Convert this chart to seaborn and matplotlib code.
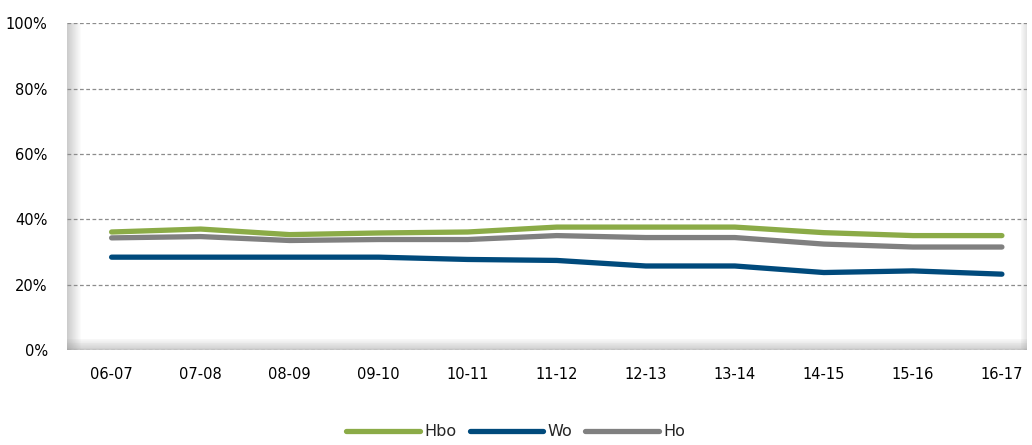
import numpy as np
import pandas as pd
import seaborn as sns
import matplotlib.pyplot as plt
from matplotlib.ticker import PercentFormatter

# data (percent)
years = ['06-07', '07-08', '08-09', '09-10', '10-11', '11-12',
         '12-13', '13-14', '14-15', '15-16', '16-17']
hbo = [36.1, 37.0, 35.3, 35.8, 36.1, 37.6, 37.6, 37.6, 35.9, 35.0, 35.0]
wo = [28.4, 28.4, 28.4, 28.4, 27.7, 27.4, 25.7, 25.7, 23.7, 24.2, 23.2]
ho = [34.3, 34.7, 33.5, 33.8, 33.8, 35.0, 34.4, 34.4, 32.4, 31.5, 31.5]

df = pd.DataFrame({'jaar': years * 3,
                   'waarde': hbo + wo + ho,
                   'niveau': ['Hbo'] * 11 + ['Wo'] * 11 + ['Ho'] * 11})

sns.set_style('white')
plt.rcParams['font.family'] = ['DejaVu Sans']

fig = plt.figure(figsize=(10.32, 4.45), dpi=100)
ax = fig.add_axes([0.065, 0.2135, 0.93, 0.7345])

# bevel shading of the plot frame
for i in range(14):
    a = 0.4 * (1 - i / 14)
    ax.axvspan(-0.5 + i * 0.011, -0.5 + (i + 1) * 0.011, ymin=0, ymax=1,
               color='gray', alpha=a, lw=0, zorder=0)
    ax.axhspan(i * 0.25, (i + 1) * 0.25, xmin=0, xmax=1,
               color='gray', alpha=a, lw=0, zorder=0)
for i in range(8):
    a = 0.25 * (i / 8)
    ax.axvspan(10.2 + i * 0.01, 10.2 + (i + 1) * 0.01, color='gray',
               alpha=a, lw=0, zorder=0)

sns.lineplot(data=df, x='jaar', y='waarde', hue='niveau', ax=ax,
             palette={'Hbo': '#8bab47', 'Wo': '#004a7c', 'Ho': '#808080'},
             linewidth=3.8, sort=False, solid_capstyle='round', zorder=3)

ax.set_ylim(0, 100)
ax.set_xlim(-0.5, 10.28)
ax.set_yticks(range(0, 101, 20))
ax.yaxis.set_major_formatter(PercentFormatter(decimals=0))
ax.grid(axis='y', linestyle=(0, (3, 2)), color='#8c8c8c', linewidth=0.9)
for s in ax.spines.values():
    s.set_visible(False)
ax.set_xlabel('')
ax.set_ylabel('')
ax.tick_params(axis='both', length=0, labelsize=10.5, colors='black')
ax.tick_params(axis='x', pad=12)
ax.tick_params(axis='y', pad=14)

handles, labels = ax.get_legend_handles_labels()
ax.get_legend().remove()
fig.legend(handles, labels, loc='center', bbox_to_anchor=(0.5, 0.03),
           ncol=3, frameon=False, fontsize=11.5, handlelength=4.6,
           columnspacing=0.8, handletextpad=0.3)

fig.savefig('out.png', dpi=100)
